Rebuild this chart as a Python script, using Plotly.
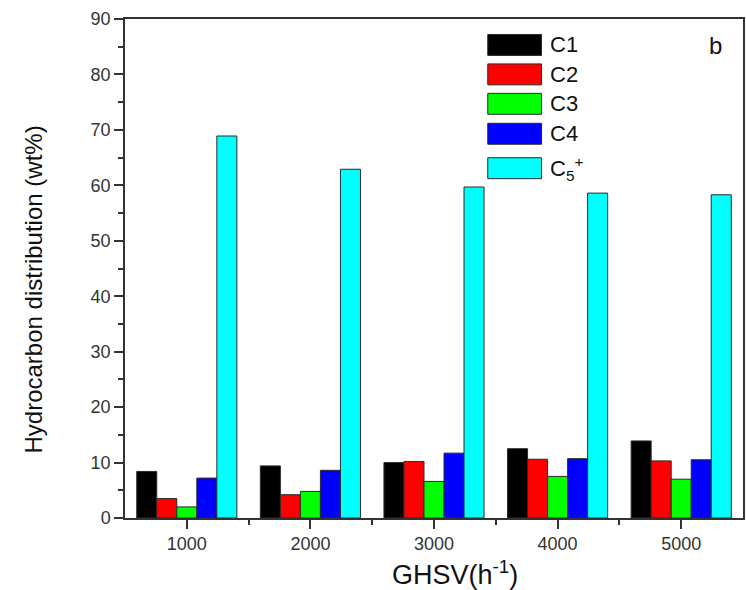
import plotly.graph_objects as go

# Gas hourly space velocity (h^-1)
ghsv = [1000, 2000, 3000, 4000, 5000]

# Hydrocarbon selectivity (wt%) per carbon number
c1 = [8.4, 9.4, 10.0, 12.5, 13.9]
c2 = [3.5, 4.2, 10.2, 10.6, 10.3]
c3 = [2.0, 4.8, 6.6, 7.5, 7.0]
c4 = [7.2, 8.6, 11.7, 10.7, 10.5]
c5p = [68.9, 62.9, 59.7, 58.6, 58.3]

series_names = ["C1", "C2", "C3", "C4", "C<sub>5</sub><sup>+</sup>"]
series_values = [c1, c2, c3, c4, c5p]
series_colors = ["#000000", "#ff0000", "#00ff00", "#0000ff", "#00ffff"]

FONT = "Liberation Sans, Arial, sans-serif"
INK = "#333333"

fig = go.Figure()
for name, vals, col in zip(series_names, series_values, series_colors):
    fig.add_trace(go.Bar(
        x=ghsv, y=vals, name=name,
        marker=dict(color=col, line=dict(color="#2a2a2a", width=1)),
        showlegend=False,
    ))

# Hand-built legend: large swatches with labels, top right of the plot
row_y = [0.948, 0.889, 0.830, 0.770, 0.701]
for (name, col, yc) in zip(series_names, series_colors, row_y):
    fig.add_shape(type="rect", xref="paper", yref="paper",
                  x0=0.587, x1=0.674, y0=yc - 0.021, y1=yc + 0.021,
                  fillcolor=col, line=dict(color="#2a2a2a", width=1))
    fig.add_annotation(xref="paper", yref="paper", x=0.684, y=yc,
                       text=name, showarrow=False, xanchor="left",
                       yanchor="middle",
                       font=dict(family=FONT, size=22, color="#111111"))

fig.add_annotation(xref="paper", yref="paper", x=0.955, y=0.946,
                   text="b", showarrow=False, xanchor="center",
                   yanchor="middle",
                   font=dict(family=FONT, size=24, color="#111111"))

# Axis titles
fig.add_annotation(xref="paper", yref="paper", x=0.534, y=-0.110,
                   text="GHSV(h<sup>-1</sup>)", showarrow=False,
                   xanchor="center", yanchor="middle",
                   font=dict(family=FONT, size=27, color="#111111"))
fig.add_annotation(xref="paper", yref="paper", x=-0.148, y=0.457,
                   text="Hydrocarbon distribution (wt%)", showarrow=False,
                   textangle=-90, xanchor="center", yanchor="middle",
                   font=dict(family=FONT, size=24, color="#111111"))

axis_common = dict(
    showline=True, linecolor=INK, linewidth=1.5, mirror=True,
    ticks="outside", tickcolor=INK, tickwidth=1.5, ticklen=9,
    showgrid=False, zeroline=False,
    tickfont=dict(family=FONT, size=18, color=INK),
)

fig.update_layout(
    width=746, height=590,
    margin=dict(l=125, r=1, t=19, b=72),
    paper_bgcolor="white", plot_bgcolor="white",
    barmode="group", bargap=0.19, bargroupgap=0,
    xaxis=dict(
        range=[500, 5500], tickvals=ghsv,
        minor=dict(tickvals=[1500, 2500, 3500, 4500], ticks="outside",
                   ticklen=5, tickcolor=INK, tickwidth=1.5),
        **axis_common,
    ),
    yaxis=dict(
        range=[0, 90], tickvals=list(range(0, 91, 10)),
        minor=dict(dtick=5, ticks="outside", ticklen=5,
                   tickcolor=INK, tickwidth=1.5),
        **axis_common,
    ),
)

fig.write_html("out.html")
